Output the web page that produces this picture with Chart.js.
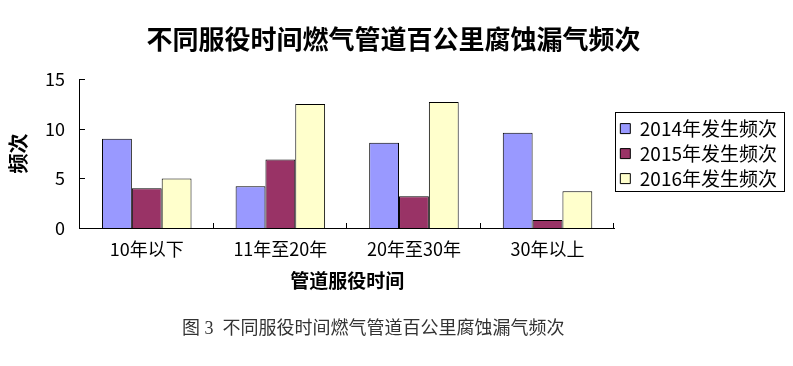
<!DOCTYPE html>
<html>
<head>
<meta charset="utf-8">
<script src="https://cdn.jsdelivr.net/npm/chart.js@4/dist/chart.umd.min.js"></script>
<style>
  html, body { margin: 0; padding: 0; background: #fff; }
  #wrap { width: 793px; height: 366px; }
</style>
</head>
<body>
<div id="wrap"><canvas id="leak-chart"></canvas></div>
<script>
const categories = ["10年以下", "11年至20年", "20年至30年", "30年以上"];
const seriesNames = ["2014年发生频次", "2015年发生频次", "2016年发生频次"];
const freq2014 = [9.0, 4.2, 8.6, 9.6];
const freq2015 = [4.0, 6.9, 3.2, 0.8];
const freq2016 = [5.0, 12.5, 12.7, 3.7];
const yTicks = [0, 5, 10, 15];

const chartTitle = "不同服役时间燃气管道百公里腐蚀漏气频次";
// trailing spaces pull the centred caption a bit to the left, like the original
const caption = "图 3  不同服役时间燃气管道百公里腐蚀漏气频次" + "         ";

const cjk = "'Noto Sans CJK SC', sans-serif";

// tick marks point into the plot, and the legend has a frame
const insideTicks = {
    id: "insideTicks",
    afterDraw(chart){
        const ctx = chart.ctx;
        const x = chart.scales.x;
        const y = chart.scales.y;
        ctx.save();
        ctx.strokeStyle = "#000";
        ctx.lineWidth = 1;
        ctx.beginPath();
        yTicks.forEach(v => {
            if (v === 0) return;
            const py = Math.round(y.getPixelForValue(v)) + 0.5;
            ctx.moveTo(x.left, py);
            ctx.lineTo(x.left + 5, py);
        });
        for (let i = 1; i <= categories.length; i += 1){
            const px = Math.round(x.getPixelForValue(i - 0.5)) - 0.5;
            ctx.moveTo(px, y.bottom);
            ctx.lineTo(px, y.bottom - 5);
        }
        ctx.stroke();

        const boxes = chart.legend.legendHitBoxes;
        if (boxes && boxes.length){
            const left = Math.min(...boxes.map(b => b.left)) - 5;
            const right = Math.max(...boxes.map(b => b.left + b.width)) + 7;
            const top = Math.min(...boxes.map(b => b.top)) - 7;
            const bottom = Math.max(...boxes.map(b => b.top + b.height)) + 3;
            ctx.strokeRect(Math.round(left) + 0.5, Math.round(top) + 0.5, Math.round(right - left), Math.round(bottom - top));
        }
        ctx.restore();
    }
};

const barStyle = (color) => ({
    backgroundColor: color,
    borderColor: "#000",
    borderWidth: 1,
    categoryPercentage: 0.67,
    barPercentage: 1.0
});

new Chart(document.getElementById("leak-chart"), {
    type: "bar",
    data: {
        labels: categories,
        datasets: [
            { label: seriesNames[0], data: freq2014, ...barStyle("#9999FF") },
            { label: seriesNames[1], data: freq2015, ...barStyle("#993366") },
            { label: seriesNames[2], data: freq2016, ...barStyle("#FFFFCC") }
        ]
    },
    options: {
        responsive: true,
        maintainAspectRatio: false,
        animation: false,
        layout: { padding: { left: 0, right: 6, top: 0, bottom: 0 } },
        plugins: {
            title: {
                display: true,
                text: chartTitle,
                color: "#000",
                font: { family: cjk, size: 26, weight: "bold" },
                padding: { top: 24, bottom: 24 }
            },
            subtitle: {
                display: true,
                position: "bottom",
                text: caption,
                color: "#333",
                font: { family: "'Liberation Serif', 'Noto Sans CJK SC', serif", size: 18 },
                padding: { top: 22, bottom: 26 }
            },
            legend: {
                position: "right",
                fullSize: false,
                labels: {
                    color: "#000",
                    font: { family: cjk, size: 19 },
                    boxWidth: 10,
                    boxHeight: 10,
                    padding: 6
                }
            },
            tooltip: { enabled: false }
        },
        scales: {
            x: {
                grid: { display: false, drawTicks: false },
                border: { display: true, color: "#000", width: 1 },
                ticks: { color: "#000", font: { family: cjk, size: 18 }, padding: 10 },
                title: {
                    display: true,
                    text: "管道服役时间",
                    color: "#000",
                    font: { family: cjk, size: 19, weight: "bold" },
                    padding: { top: 0, bottom: 4 }
                }
            },
            y: {
                min: 0,
                max: 15,
                grid: { display: false, drawTicks: false },
                border: { display: true, color: "#000", width: 1 },
                ticks: { stepSize: 5, color: "#000", font: { family: cjk, size: 18 }, padding: 15 },
                title: {
                    display: true,
                    text: "频次",
                    color: "#000",
                    font: { family: cjk, size: 20, weight: "bold" },
                    padding: { top: 6, bottom: 0 }
                }
            }
        }
    },
    plugins: [insideTicks]
});
</script>
</body>
</html>
